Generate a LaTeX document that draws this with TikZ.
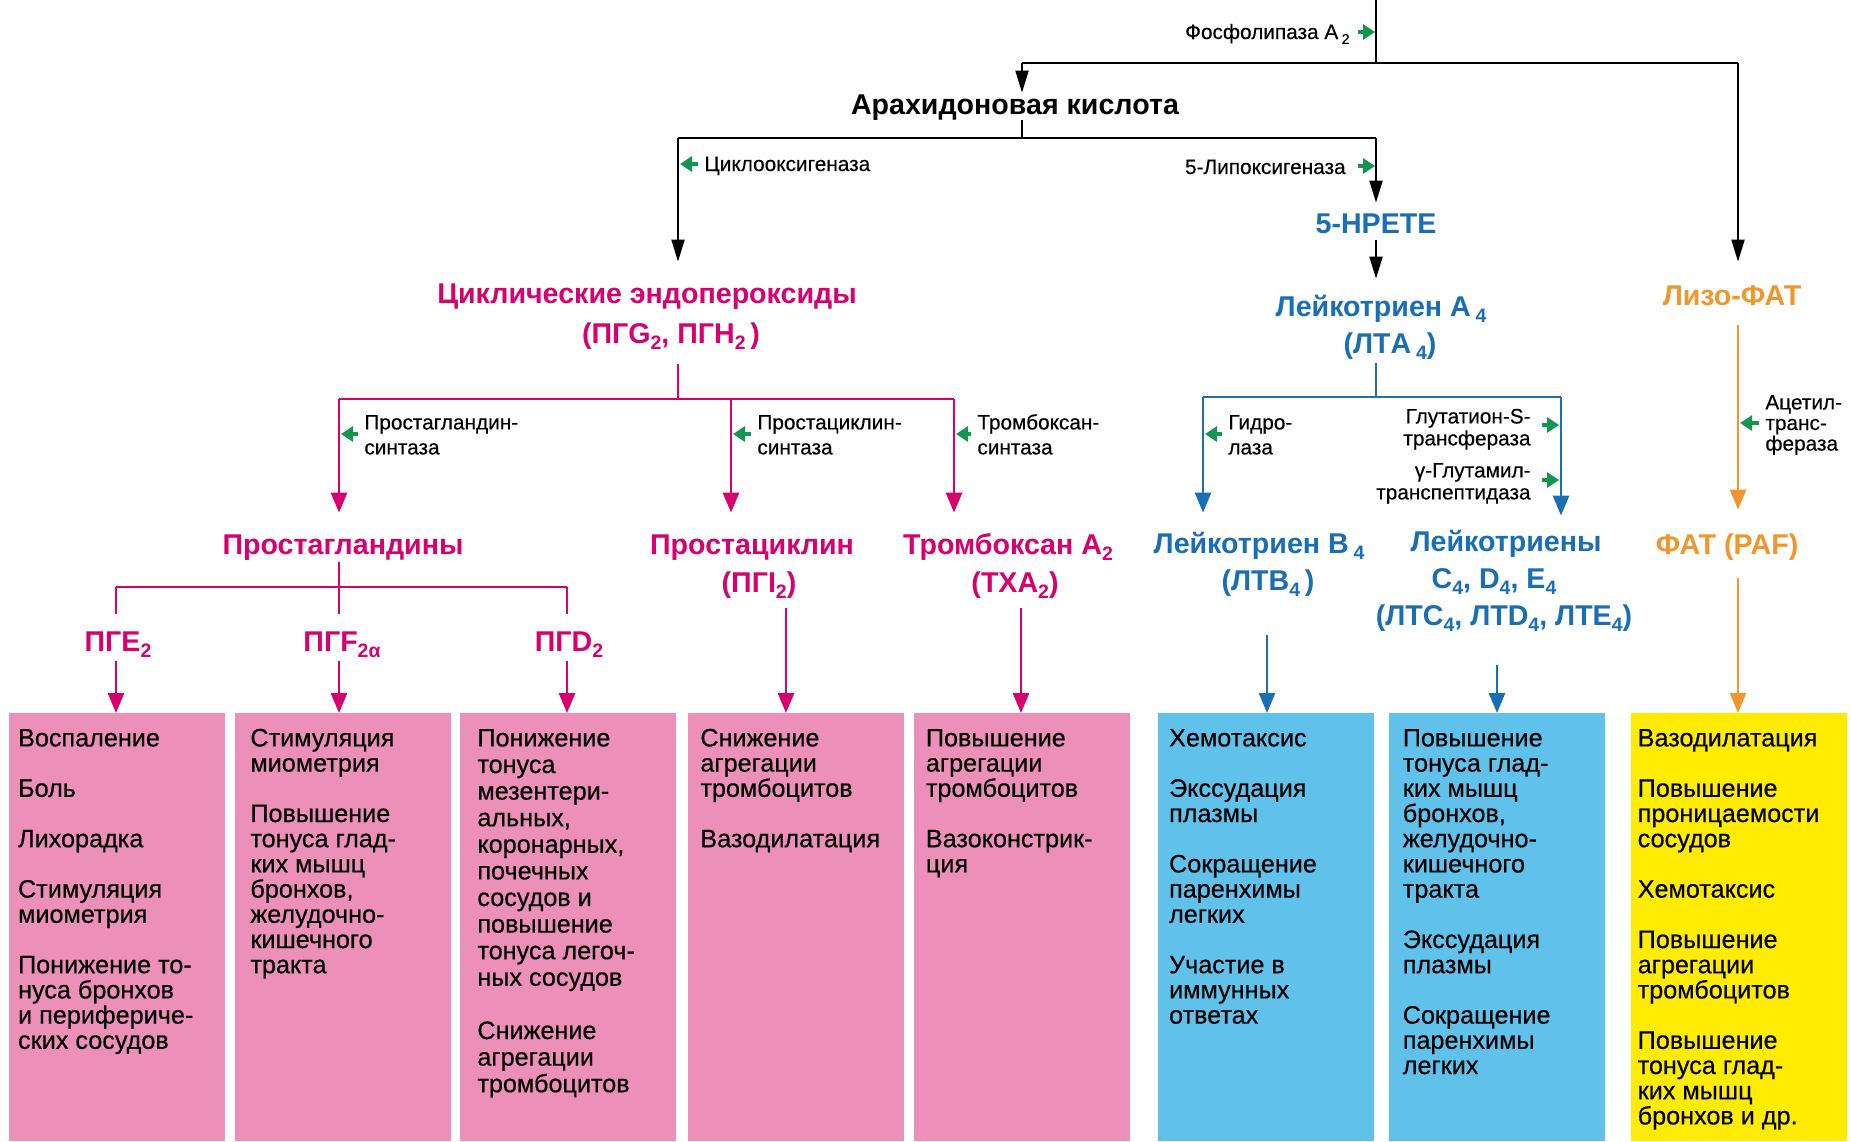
\documentclass[tikz,border=0pt]{standalone}
\usepackage{fontspec}
\setmainfont{Liberation Sans}
\newfontfamily\boxfont{Liberation Sans}[FakeBold=0.5]
\newfontfamily\lblfont{Liberation Sans}[FakeBold=0.3]
\usepackage{graphicx}
\usetikzlibrary{arrows.meta}
\definecolor{mag}{RGB}{214,0,110}
\definecolor{pinkbox}{RGB}{236,143,185}
\definecolor{blu}{RGB}{25,110,180}
\definecolor{bluebox}{RGB}{96,194,235}
\definecolor{ora}{RGB}{240,150,45}
\definecolor{ylw}{RGB}{255,236,0}
\definecolor{grn}{RGB}{20,150,80}
\newcommand\sbs[1]{\raisebox{-0.45ex}{\scalebox{0.68}{#1}}}
\begin{document}
\begin{tikzpicture}[x=0.5pt,y=-0.5pt,
  hdr/.style={font=\fontsize{14.3pt}{17pt}\selectfont\bfseries, inner sep=0pt, text height=10.5pt, text depth=3pt, anchor=base},
  lbl/.style={font=\lblfont\fontsize{10.4pt}{12.5pt}\selectfont, inner sep=0pt},
  btxt/.style={font=\boxfont\fontsize{12.6pt}{12.6pt}\selectfont, inner sep=0pt, align=left, anchor=north west},
  pbox/.style={inner sep=0pt, minimum width=108pt, minimum height=214pt, anchor=north west},
  blkln/.style={line width=1pt, draw=black},
  blkarr/.style={blkln, -{Triangle[length=11pt,width=6.5pt]}},
  magln/.style={line width=1.4pt, draw=mag},
  magarr/.style={magln, -{Triangle[length=10pt,width=8pt]}},
  bluln/.style={line width=1.3pt, draw=blu},
  bluarr/.style={bluln, -{Triangle[length=10pt,width=8pt]}},
  oraln/.style={line width=1.2pt, draw=ora},
  oraarr/.style={oraln, -{Triangle[length=10pt,width=8pt]}},
  garr/.style={line width=1.6pt, draw=grn, -{Triangle[length=6pt,width=7.5pt]}}
]
\fill[white] (0,0) rectangle (1851,1141);
\useasboundingbox (0,0) rectangle (1851,1141);

% ---------- effect boxes ----------
\node[pbox, fill=pinkbox] (box1) at (9,713) {};
\node[pbox, fill=pinkbox] (box2) at (235,713) {};
\node[pbox, fill=pinkbox] (box3) at (460,713) {};
\node[pbox, fill=pinkbox] (box4) at (688,713) {};
\node[pbox, fill=pinkbox] (box5) at (914,713) {};
\node[pbox, fill=bluebox] (box6) at (1158,713) {};
\node[pbox, fill=bluebox] (box7) at (1389,713) {};
\node[pbox, fill=ylw] (box8) at (1631,713) {};

\node[btxt] (t1) at (17.7,728) {\rule{0pt}{9pt}Воспаление\\[12.6pt]Боль\\[12.6pt]Лихорадка\\[12.6pt]Стимуляция\\миометрия\\[12.6pt]Понижение то-\\нуса бронхов\\и перифериче-\\ских сосудов};
\node[btxt] (t2) at (250,728) {\rule{0pt}{9pt}Стимуляция\\миометрия\\[12.6pt]Повышение\\тонуса глад-\\ких мышц\\бронхов,\\желудочно-\\кишечного\\тракта};
\node[btxt, font=\boxfont\fontsize{12.6pt}{13.3pt}\selectfont] (t3) at (477,728) {\rule{0pt}{9pt}Понижение\\тонуса\\мезентери-\\альных,\\коронарных,\\почечных\\сосудов и\\повышение\\тонуса легоч-\\ных сосудов\\[13.3pt]Снижение\\агрегации\\тромбоцитов};
\node[btxt] (t4) at (700,728) {\rule{0pt}{9pt}Снижение\\агрегации\\тромбоцитов\\[12.6pt]Вазодилатация};
\node[btxt] (t5) at (925.5,728) {\rule{0pt}{9pt}Повышение\\агрегации\\тромбоцитов\\[12.6pt]Вазоконстрик-\\ция};
\node[btxt] (t6) at (1168.7,728) {\rule{0pt}{9pt}Хемотаксис\\[12.6pt]Экссудация\\плазмы\\[12.6pt]Сокращение\\паренхимы\\легких\\[12.6pt]Участие в\\иммунных\\ответах};
\node[btxt] (t7) at (1402.4,728) {\rule{0pt}{9pt}Повышение\\тонуса глад-\\ких мышц\\бронхов,\\желудочно-\\кишечного\\тракта\\[12.6pt]Экссудация\\плазмы\\[12.6pt]Сокращение\\паренхимы\\легких};
\node[btxt] (t8) at (1637.3,728) {\rule{0pt}{9pt}Вазодилатация\\[12.6pt]Повышение\\проницаемости\\сосудов\\[12.6pt]Хемотаксис\\[12.6pt]Повышение\\агрегации\\тромбоцитов\\[12.6pt]Повышение\\тонуса глад-\\ких мышц\\бронхов и др.};

% ---------- headers ----------
\node[hdr] (arach) at (1015,114) {Арахидоновая кислота};
\node[hdr, text=mag] (cyc1) at (647,303) {Циклические эндопероксиды};
\node[hdr, text=mag] (cyc2) at (671,343) {(ПГG\sbs{2}, ПГH\sbs{2}\,)};
\node[hdr, text=blu] (hpete) at (1376,233) {5-HPETE};
\node[hdr, text=blu] (lta1) at (1381,316) {Лейкотриен A\,\sbs{4}};
\node[hdr, text=blu] (lta2) at (1390,353) {(ЛТA\,\sbs{4})};
\node[hdr, text=ora] (lyso) at (1732,305) {Лизо-ФАТ};
\node[hdr, text=ora] (paf) at (1727,554) {ФАТ (PAF)};
\node[hdr, text=mag] (pgs) at (343,554) {Простагландины};
\node[hdr, text=mag] (pgi1) at (752,554) {Простациклин};
\node[hdr, text=mag] (pgi2) at (759,592) {(ПГI\sbs{2})};
\node[hdr, text=mag] (txa1) at (1008,554) {Тромбоксан A\sbs{2}};
\node[hdr, text=mag] (txa2) at (1015,592) {(TXA\sbs{2})};
\node[hdr, text=blu] (ltb1) at (1259,553) {Лейкотриен B\,\sbs{4}};
\node[hdr, text=blu] (ltb2) at (1268,590) {(ЛТB\sbs{4}\,)};
\node[hdr, text=blu] (ltc1) at (1506,551) {Лейкотриены};
\node[hdr, text=blu] (ltc2) at (1494,588) {C\sbs{4}, D\sbs{4}, E\sbs{4}};
\node[hdr, text=blu] (ltc3) at (1504,625) {(ЛТC\sbs{4}, ЛТD\sbs{4}, ЛТE\sbs{4})};
\node[hdr, text=mag] (pge) at (118,651) {ПГE\sbs{2}};
\node[hdr, text=mag] (pgf) at (342,651) {ПГF\sbs{2α}};
\node[hdr, text=mag] (pgd) at (569,651) {ПГD\sbs{2}};

% ---------- enzyme labels ----------
\node[lbl, anchor=base east] (phos) at (1350,39) {Фосфолипаза A\,\sbs{2}};
\node[lbl, anchor=base west] (cox) at (704,171) {Циклооксигеназа};
\node[lbl, anchor=base east] (lox) at (1346,174) {5-Липоксигеназа};
\node[lbl, anchor=north west, align=left] (pgsyn) at (364,413) {\rule{0pt}{8pt}Простагландин-\\синтаза};
\node[lbl, anchor=north west, align=left] (pcsyn) at (757,413) {\rule{0pt}{8pt}Простациклин-\\синтаза};
\node[lbl, anchor=north west, align=left] (txsyn) at (977,413) {\rule{0pt}{8pt}Тромбоксан-\\синтаза};
\node[lbl, anchor=north west, align=left] (hydro) at (1228,413) {\rule{0pt}{8pt}Гидро-\\лаза};
\node[lbl, anchor=north east, align=right, font=\lblfont\fontsize{10.4pt}{11pt}\selectfont] (gst) at (1531,407) {\rule{0pt}{8pt}Глутатион-S-\\трансфераза};
\node[lbl, anchor=north east, align=right, font=\lblfont\fontsize{10.4pt}{11pt}\selectfont] (ggt) at (1531,461) {\rule{0pt}{8pt}γ-Глутамил-\\транспептидаза};
\node[lbl, anchor=north west, align=left, font=\lblfont\fontsize{10.4pt}{10.3pt}\selectfont] (acet) at (1765,393) {\rule{0pt}{8pt}Ацетил-\\транс-\\фераза};

% ---------- junction coordinates ----------
\coordinate (top) at (1376,0);
\coordinate (j1) at (1376,63);
\coordinate (j1L) at (1022,63);
\coordinate (j1R) at (1738,63);
\coordinate (j2) at (1022,138);
\coordinate (j2L) at (678,138);
\coordinate (j2R) at (1376,138);
\coordinate (j3) at (678,399);
\coordinate (j3L) at (339,399);
\coordinate (j3M) at (731,399);
\coordinate (j3R) at (954,399);
\coordinate (j4) at (1376,397);
\coordinate (j4L) at (1203,397);
\coordinate (j4R) at (1561,397);
\coordinate (j5) at (339,587);
\coordinate (j5L) at (116,587);
\coordinate (j5R) at (567,587);
\coordinate (xa) at (786,0);
\coordinate (xb) at (1021,0);
\coordinate (xc) at (1267,0);
\coordinate (xd) at (1497,0);

% ---------- black connectors ----------
\draw[blkln] (top) -- (j1);
\draw[blkln] (j1L) -- (j1R);
\draw[blkarr] (j1L) -- (j1L |- arach.north);
\draw[blkarr, shorten >=11pt] (j1R) -- (j1R |- lyso.north);
\draw[blkln] (j2 |- arach.south) -- (j2);
\draw[blkln] (j2L) -- (j2R);
\draw[blkarr, shorten >=10pt] (j2L) -- (j2L |- cyc1.north);
\draw[blkarr, shorten >=4.5pt] (j2R) -- (j2R |- hpete.north);
\draw[blkarr, shorten <=0.5pt, shorten >=8pt] (j2R |- hpete.south) -- (j2R |- lta1.north);

% ---------- magenta connectors ----------
\draw[magln, shorten <=7.5pt] (j3 |- cyc2.south) -- (j3);
\draw[magln] (j3L) -- (j3R);
\draw[magarr, shorten >=10pt] (j3L) -- (j3L |- pgs.north);
\draw[magarr, shorten >=10pt] (j3M) -- (j3M |- pgi1.north);
\draw[magarr, shorten >=10pt] (j3R) -- (j3R |- txa1.north);
\draw[magln, shorten <=1pt] (j5 |- pgs.south) -- (j5);
\draw[magln] (j5L) -- (j5R);
\draw[magln, shorten >=8pt] (j5L) -- (j5L |- pge.north);
\draw[magln, shorten >=8pt] (j5) -- (j5 |- pgf.north);
\draw[magln, shorten >=8pt] (j5R) -- (j5R |- pgd.north);
\draw[magarr, shorten <=2pt] (j5L |- pge.south) -- (j5L |- box1.north);
\draw[magarr, shorten <=2pt] (j5 |- pgf.south) -- (j5 |- box2.north);
\draw[magarr, shorten <=2pt] (j5R |- pgd.south) -- (j5R |- box3.north);
\draw[magarr, shorten <=5pt] (xa |- pgi2.south) -- (xa |- box4.north);
\draw[magarr, shorten <=5pt] (xb |- txa2.south) -- (xb |- box5.north);

% ---------- blue connectors ----------
\draw[bluln, shorten <=2pt] (j4 |- lta2.south) -- (j4);
\draw[bluln] (j4L) -- (j4R);
\draw[bluarr, shorten >=9.5pt] (j4L) -- (j4L |- ltb1.north);
\draw[bluarr, shorten >=7pt] (j4R) -- (j4R |- ltc1.north);
\draw[bluarr, shorten <=19.5pt] (xc |- ltb2.south) -- (xc |- box6.north);
\draw[bluarr, shorten <=17pt] (xd |- ltc3.south) -- (xd |- box7.north);

% ---------- orange connectors ----------
\draw[oraarr, shorten <=7pt, shorten >=11.5pt] (j1R |- lyso.south) -- (j1R |- paf.north);
\draw[oraarr, shorten <=9pt] (j1R |- paf.south) -- (j1R |- box8.north);

% ---------- green enzyme arrows ----------
\draw[garr] ([xshift=4pt,yshift=3.5pt]phos.base east) -- ++(8.5pt,0);
\draw[garr] ([xshift=6pt,yshift=4pt]lox.base east) -- ++(8.5pt,0);
\draw[garr] ([xshift=-3pt,yshift=3.5pt]cox.base west) -- ++(-9pt,0);
\draw[garr] ([xshift=-3pt,yshift=-10.5pt]pgsyn.north west) -- ++(-8.5pt,0);
\draw[garr] ([xshift=-3pt,yshift=-10.5pt]pcsyn.north west) -- ++(-9pt,0);
\draw[garr] ([xshift=-3pt,yshift=-10.5pt]txsyn.north west) -- ++(-7.5pt,0);
\draw[garr] ([xshift=-3pt,yshift=-10.5pt]hydro.north west) -- ++(-8.5pt,0);
\draw[garr] ([xshift=5.5pt,yshift=-9pt]gst.north east) -- ++(8.5pt,0);
\draw[garr] ([xshift=5.5pt,yshift=-9.5pt]ggt.north east) -- ++(8.5pt,0);
\draw[garr] ([xshift=-3pt,yshift=-15pt]acet.north west) -- ++(-9.5pt,0);
\end{tikzpicture}
\end{document}
